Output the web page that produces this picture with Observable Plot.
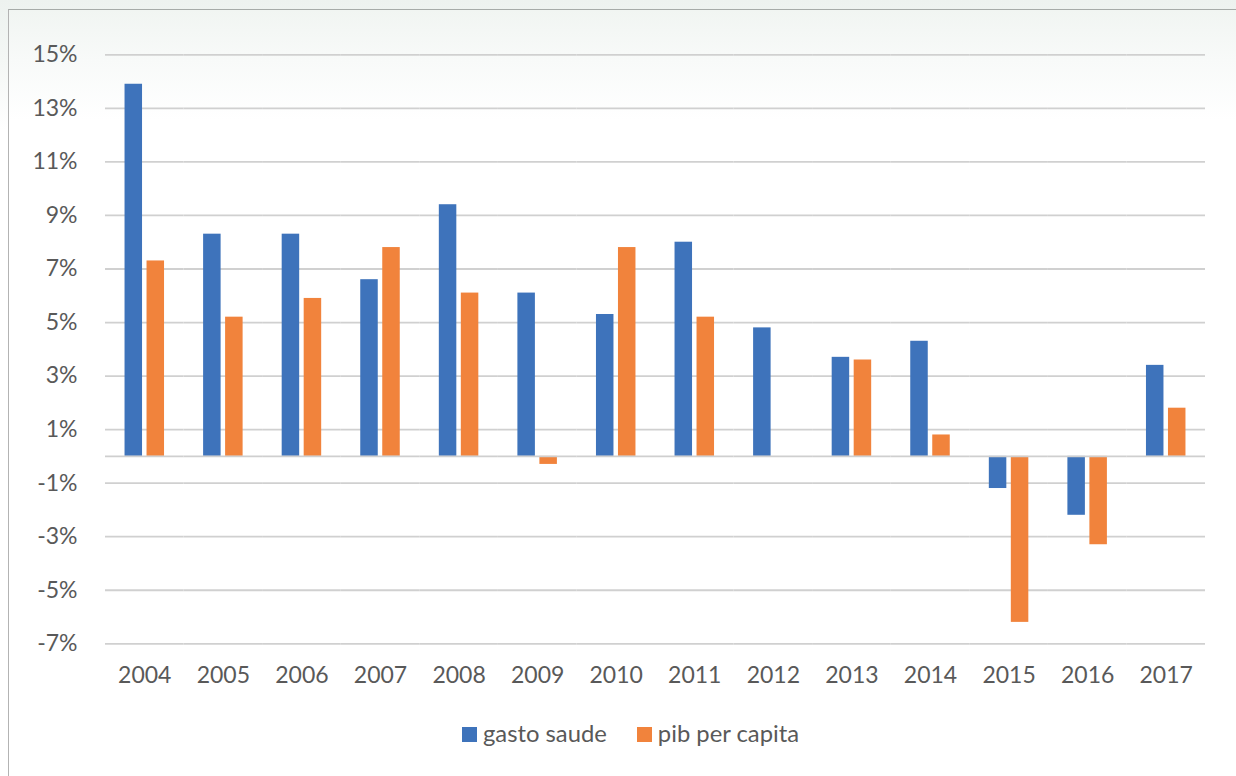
<!DOCTYPE html>
<html>
<head>
<meta charset="utf-8">
<script src="https://cdn.jsdelivr.net/npm/d3@7"></script>
<script src="https://cdn.jsdelivr.net/npm/@observablehq/plot@0.6"></script>
<style>
  html, body { margin: 0; padding: 0; }
  body {
    width: 1236px; height: 776px; overflow: hidden; position: relative;
    background: linear-gradient(to bottom, #edf2ef 0px, #f4f7f5 60px, #ffffff 130px);
    font-family: Lato, "Open Sans", sans-serif;
  }
  #frame {
    position: absolute; left: 8px; top: 9px; width: 1240px; height: 780px;
    border-left: 1.5px solid #b3b3b3; border-top: 1.5px solid #a6aba8;
    background: linear-gradient(to bottom, #f1f5f2 0px, #f8faf9 50px, #ffffff 110px);
  }
  #chart { position: absolute; left: 0; top: 0; }
  #legend {
    position: absolute; left: 462px; top: 719px; display: flex; align-items: baseline;
    font-size: 23.8px; color: #595959; white-space: nowrap;
  }
  .item { display: flex; align-items: baseline; margin-right: 30px; }
  .sw { display: inline-block; width: 15px; height: 15px; margin-right: 6px; }
</style>
</head>
<body>
<div id="frame"></div>
<div id="chart"></div>
<div id="legend"></div>
<script>
// Annual growth rates (%), 2004–2017
const years = ["2004","2005","2006","2007","2008","2009","2010","2011","2012","2013","2014","2015","2016","2017"];
const gastoSaude = [13.9, 8.3, 8.3, 6.6, 9.4, 6.1, 5.3, 8.0, 4.8, 3.7, 4.3, -1.2, -2.2, 3.4];
const pibPerCapita = [7.3, 5.2, 5.9, 7.8, 6.1, -0.3, 7.8, 5.2, null, 3.6, 0.8, -6.2, -3.3, 1.8];
const seriesNames = ["gasto saude", "pib per capita"];
const seriesColors = ["#3e73bb", "#f1833c"];
const yTicks = [-7, -5, -3, -1, 1, 3, 5, 7, 9, 11, 13, 15];

const rows = [];
years.forEach((yr, i) => {
  rows.push({year: yr, series: seriesNames[0], value: gastoSaude[i]});
  rows.push({year: yr, series: seriesNames[1], value: pibPerCapita[i]});
});

const chart = Plot.plot({
  width: 1236,
  height: 700,
  marginLeft: 105,
  marginRight: 31,
  marginTop: 54.3,
  marginBottom: 56.7,
  style: {background: "transparent", fontFamily: "Lato, 'Open Sans', sans-serif", fontSize: "23px", color: "#595959"},
  fx: {domain: years, padding: 0, round: false, label: null, axis: "bottom", tickSize: 0, tickPadding: 23},
  x: {domain: seriesNames, paddingInner: 0.2045, paddingOuter: 0.888, round: false, axis: null},
  y: {domain: [-7, 15], ticks: yTicks, tickFormat: d => d + "%", label: null, tickSize: 0, tickPadding: 28},
  color: {domain: seriesNames, range: seriesColors},
  marks: [
    Plot.ruleY(yTicks, {stroke: "#d0d0d0", strokeWidth: 1.8}),
    Plot.barY(rows.filter(d => d.value != null), {fx: "year", x: "series", y: "value", fill: "series", inset: 0}),
    Plot.ruleY([0], {stroke: "#cfcfcf", strokeWidth: 1.8})
  ]
});
chart.querySelectorAll("text").forEach(t => t.setAttribute("fill", "#595959"));
document.getElementById("chart").appendChild(chart);

const legend = document.getElementById("legend");
seriesNames.forEach((name, i) => {
  const item = document.createElement("div");
  item.className = "item";
  const sw = document.createElement("span");
  sw.className = "sw";
  sw.style.background = seriesColors[i];
  const label = document.createElement("span");
  label.textContent = name;
  item.appendChild(sw);
  item.appendChild(label);
  legend.appendChild(item);
});
</script>
</body>
</html>
